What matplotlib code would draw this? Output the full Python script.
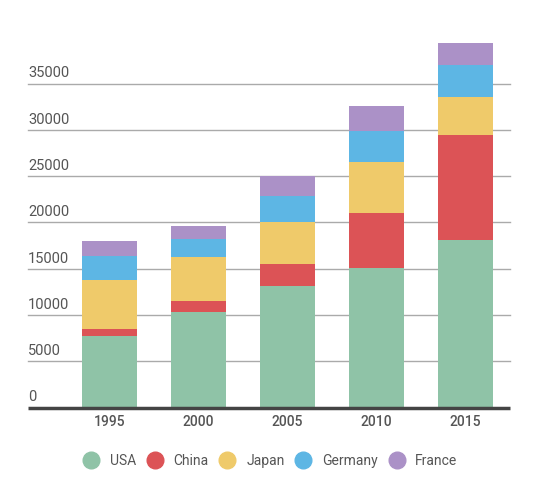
import numpy as np
import matplotlib.pyplot as plt
from matplotlib.lines import Line2D

years = ['1995', '2000', '2005', '2010', '2015']
countries = ['USA', 'China', 'Japan', 'Germany', 'France']
usa = [7700, 10300, 13100, 15050, 18100]
china = [800, 1200, 2400, 5950, 11300]
japan = [5300, 4750, 4500, 5500, 4100]
germany = [2600, 1950, 2850, 3350, 3450]
france = [1600, 1400, 2200, 2700, 2400]
colors = ['#8fc3a7', '#dc5356', '#efca6a', '#5db6e4', '#ab91c7']

plt.rcParams['font.family'] = ['Roboto', 'DejaVu Sans']

fig = plt.figure(figsize=(5.46, 4.94), dpi=100)
ax = fig.add_axes([0.119, 0.1747, 0.815, 0.75])

index = np.arange(len(years))
bottom = np.zeros(len(years))
series = [usa, china, japan, germany, france]
for vals, c in zip(series, colors):
	ax.bar(index, vals, 0.62, bottom=bottom, color=c, zorder=2)
	bottom += np.array(vals)

ax.set_xlim(-0.5, 4.5)
ax.set_ylim(0, 40000)

# gridlines extend left under the labels
ext = 37 / 445.0
for v in range(5000, 40000, 5000):
	ax.plot([-0.5 - 5 * ext, 4.5], [v, v], color='#aaaaaa', lw=1, zorder=1, clip_on=False)
for v in range(0, 40000, 5000):
	ax.text(-0.5 - 5 * ext, v + 350, str(v), ha='left', va='bottom', fontsize=10.5, color='#555555')
ax.plot([-0.5 - 5 * ext, 4.5], [0, 0], color='#444444', lw=2.5, zorder=3, clip_on=False,
	solid_capstyle='butt')

for s in ax.spines.values():
	s.set_visible(False)
ax.set_yticks([])
ax.set_xticks(index)
ax.set_xticklabels(years, fontsize=10, color='#555555', fontweight='medium')
ax.tick_params(axis='x', length=0, pad=5)

handles = [Line2D([], [], marker='o', ls='', markersize=12, markerfacecolor=c, markeredgecolor=c)
	for c in colors]
fig.legend(handles, countries, loc='center', bbox_to_anchor=(0.495, 0.067), ncol=5, frameon=False,
	fontsize=10, labelcolor='#555555', handlelength=1.2, handletextpad=0.75, columnspacing=0.75)

fig.savefig('out.png', dpi=100)
